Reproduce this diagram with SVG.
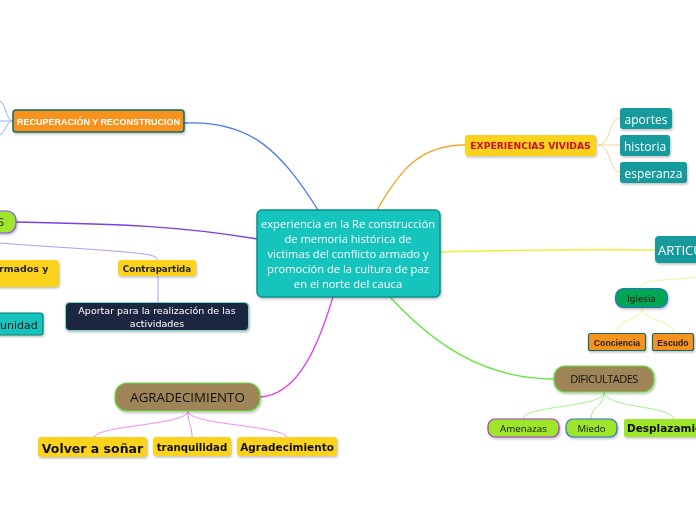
<svg xmlns="http://www.w3.org/2000/svg" width="696" height="520" viewBox="0 0 696 520">
<defs>
<filter id="sh" x="-10%" y="-20%" width="130%" height="160%">
<feDropShadow dx="1" dy="1.5" stdDeviation="1" flood-color="#000" flood-opacity="0.25"/>
</filter>
<style>
.n{filter:url(#sh)}
.t{font-family:"Open Sans","DejaVu Sans",sans-serif}
.b{font-family:"DejaVu Sans","Liberation Sans",sans-serif;font-weight:bold}
.c{fill:none}
</style>
</defs>
<rect width="696" height="520" fill="#fff"/>
<g id="connectors" class="c">
<path d="M184 123 C250 120 280 150 318 210" stroke="#4a78f5" stroke-width="1.3"/>
<path d="M13 121 C6 121 6 104 0 101 M13 121 H0 M13 121 C6 121 6 132 0 135" stroke="#8fb0fb" stroke-width="1"/>
<path d="M16 222 C120 224 180 226 257 239" stroke="#7b3fe4" stroke-width="1.5"/>
<path d="M0 243 C60 248 120 250 150 255 Q158 257 158 261" stroke="#b697f3" stroke-width="1"/>
<path d="M158 276 V302" stroke="#b697f3" stroke-width="1"/>
<path d="M333 297 C320 340 300 395 260 397" stroke="#e83cf0" stroke-width="1.3"/>
<path d="M188 411 C188 425 100 425 94 437 M188 411 C188 425 192 425 192 437 M188 411 C188 425 280 425 287 437" stroke="#f08bf5" stroke-width="1"/>
<path d="M377 210 C400 170 420 145 465 145" stroke="#f5a623" stroke-width="1.3"/>
<path d="M598 145 C612 145 608 118 620 118 M598 145 H620 M598 145 C612 145 608 172 620 172" stroke="#fbd196" stroke-width="1"/>
<path d="M440 252 C520 250 590 249 655 250" stroke="#e3f53a" stroke-width="1.5"/>
<path d="M696 277 C660 282 642 278 642 288" stroke="#eef79a" stroke-width="1"/>
<path d="M642 307 C642 322 617 318 617 333 M642 307 C642 322 673 318 673 333" stroke="#eef79a" stroke-width="1"/>
<path d="M390 297 C430 340 480 379 554 379" stroke="#5ee83a" stroke-width="1.3"/>
<path d="M604 392 C604 408 523 405 523 419 M604 392 C604 408 591 405 591 419 M604 392 C604 408 670 405 674 419" stroke="#a6f08e" stroke-width="1"/>
</g>
<g id="center" class="n">
<rect x="257" y="210" width="183" height="87" rx="5" fill="#14c4be" stroke="#0e8f8b" stroke-width="1.5"/>
<g class="t" font-size="11.2" fill="#fff" text-anchor="middle">
<text x="348" y="228">experiencia en la Re construcción</text>
<text x="348" y="243">de  memoria histórica de</text>
<text x="348" y="258">victimas del conflicto armado y</text>
<text x="348" y="273">promoción de la cultura de paz</text>
<text x="348" y="288">en el norte del cauca</text>
</g>
</g>
<g id="recuperacion" class="n">
<rect x="13" y="110" width="171" height="22" rx="3" fill="#f7931e" stroke="#146b5e" stroke-width="1.5"/>
<text x="98.5" y="124.5" text-anchor="middle" font-family="Liberation Sans,Arial,sans-serif" font-weight="bold" font-size="9" fill="#fff">RECUPERACIÓN Y RECONSTRUCION</text>
</g>
<g id="nodo-s" class="n">
<rect x="-30" y="211" width="46" height="22" rx="9" fill="#9de62b" stroke="#8a4ce6" stroke-width="1.2"/>
<text x="4" y="226" text-anchor="end" class="t" font-size="11" fill="#222">S</text>
</g>
<g id="armados" class="n">
<rect x="-60" y="260" width="119" height="27" rx="4" fill="#fbd21a"/>
<text x="-1" y="272" class="b" font-size="9.5" fill="#222">rmados y</text>
</g>
<g id="unidad" class="n">
<rect x="-40" y="313" width="83" height="22" rx="3" fill="#14c4be" stroke="#0f7b73" stroke-width="1.2"/>
<text x="0" y="328.5" font-family="DejaVu Sans,sans-serif" font-size="11" fill="#1a1a1a">unidad</text>
</g>
<g id="contrapartida" class="n">
<rect x="118" y="260" width="78" height="16" rx="3" fill="#fbd21a"/>
<text x="157" y="271.5" text-anchor="middle" class="b" font-size="8.7" fill="#222">Contrapartida</text>
</g>
<g id="aportar" class="n">
<rect x="65.5" y="302.5" width="183" height="28" rx="4" fill="#1e2541" stroke="#6fd6d0" stroke-width="1"/>
<g font-family="DejaVu Sans,Verdana,sans-serif" font-size="9.5" fill="#fff" text-anchor="middle">
<text x="157" y="314">Aportar para la realización de las</text>
<text x="157" y="326.5">actividades</text>
</g>
</g>
<g id="agradecimiento" class="n">
<rect x="115" y="383" width="145" height="28" rx="12" fill="#9e8457" stroke="#66e040" stroke-width="1.2"/>
<text x="187.5" y="402" text-anchor="middle" class="t" font-size="13.3" fill="#111">AGRADECIMIENTO</text>
</g>
<g id="volver" class="n">
<rect x="38" y="437" width="109" height="20" rx="3" fill="#fbd21a"/>
<text x="92.5" y="452.5" text-anchor="middle" class="b" font-size="12.5" fill="#111">Volver a soñar</text>
</g>
<g id="tranquilidad" class="n">
<rect x="153" y="437" width="78" height="19" rx="3" fill="#fbd21a"/>
<text x="192" y="450.5" text-anchor="middle" class="b" font-size="10.2" fill="#111">tranquilidad</text>
</g>
<g id="agradecimiento2" class="n">
<rect x="237" y="437" width="100" height="19" rx="3" fill="#fbd21a"/>
<text x="287" y="450.5" text-anchor="middle" class="b" font-size="10.5" fill="#111">Agradecimiento</text>
</g>
<g id="experiencias" class="n">
<rect x="465" y="135" width="131" height="21" rx="3" fill="#fbd21a"/>
<text x="530.5" y="148.8" text-anchor="middle" class="b" font-size="9.2" fill="#c8102e">EXPERIENCIAS VIVIDAS</text>
</g>
<g id="aportes" class="n">
<rect x="620" y="108" width="52" height="21" rx="3" fill="#129a9b"/>
<text x="646" y="123.5" text-anchor="middle" class="t" font-size="12" fill="#fff">aportes</text>
</g>
<g id="historia" class="n">
<rect x="620" y="135" width="50" height="21" rx="3" fill="#129a9b"/>
<text x="645" y="150.5" text-anchor="middle" class="t" font-size="12" fill="#fff">historia</text>
</g>
<g id="esperanza" class="n">
<rect x="620" y="162" width="67" height="21" rx="3" fill="#129a9b"/>
<text x="653.5" y="177.5" text-anchor="middle" class="t" font-size="12" fill="#fff">esperanza</text>
</g>
<g id="articulacion" class="n">
<rect x="655" y="236" width="60" height="27" rx="4" fill="#129a9b"/>
<text x="658" y="255" class="t" font-size="13" fill="#fff">ARTICULACIÓN</text>
</g>
<g id="iglesia" class="n">
<rect x="615.5" y="288.5" width="52" height="19" rx="8" fill="#00a651" stroke="#2a6fd6" stroke-width="1.2"/>
<text x="641.5" y="301.5" text-anchor="middle" font-family="DejaVu Sans,sans-serif" font-size="8.8" fill="#111">Iglesia</text>
</g>
<g id="conciencia" class="n">
<rect x="588.5" y="333.5" width="57" height="17" rx="2" fill="#f7931e" stroke="#146b5e" stroke-width="1.2"/>
<text x="617" y="345.5" text-anchor="middle" font-family="Liberation Sans,Arial,sans-serif" font-weight="bold" font-size="8.7" fill="#222">Conciencia</text>
</g>
<g id="escudo" class="n">
<rect x="652.5" y="333.5" width="41" height="17" rx="2" fill="#f7931e" stroke="#146b5e" stroke-width="1.2"/>
<text x="673" y="345.5" text-anchor="middle" font-family="Liberation Sans,Arial,sans-serif" font-weight="bold" font-size="8.7" fill="#222">Escudo</text>
</g>
<g id="dificultades" class="n">
<rect x="554" y="366" width="100" height="26" rx="11" fill="#9e8457" stroke="#66e040" stroke-width="1.2"/>
<text x="604" y="383" text-anchor="middle" class="t" font-size="11" letter-spacing="-0.5" fill="#111">DIFICULTADES</text>
</g>
<g id="amenazas" class="n">
<rect x="488" y="419" width="71" height="18" rx="7" fill="#9de62b" stroke="#a236c9" stroke-width="1.2"/>
<text x="523.5" y="431.8" text-anchor="middle" class="t" font-size="9.8" fill="#111">Amenazas</text>
</g>
<g id="miedo" class="n">
<rect x="566" y="419" width="51" height="18" rx="7" fill="#9de62b" stroke="#2a6fd6" stroke-width="1.2"/>
<text x="591.5" y="431.8" text-anchor="middle" class="t" font-size="9.6" fill="#111">Miedo</text>
</g>
<g id="desplazamiento" class="n">
<rect x="624" y="419" width="90" height="18" rx="2" fill="#9de62b"/>
<text x="627" y="431.5" class="b" font-size="10.5" fill="#111">Desplazamiento</text>
</g>
</svg>
